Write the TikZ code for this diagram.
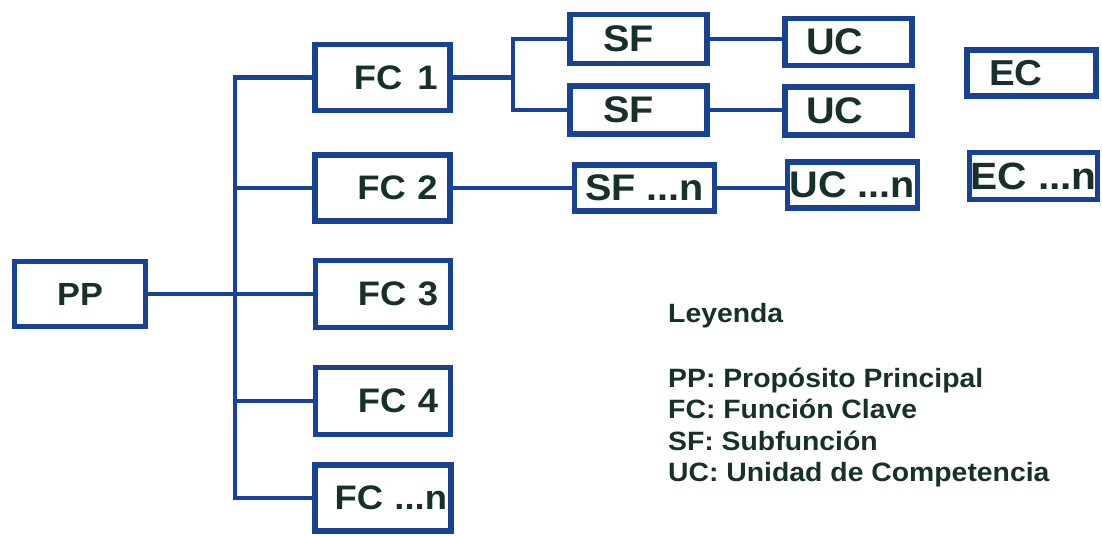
\documentclass[tikz,border=0pt]{standalone}
\usepackage{fontspec}
\setmainfont{Liberation Sans}[FakeStretch=1.07]
\definecolor{bblue}{RGB}{24,66,148}
\definecolor{tdark}{RGB}{24,48,43}
\newcommand{\fsz}[1]{\bfseries\fontsize{#1}{#1}\selectfont}
\begin{document}
\begin{tikzpicture}[x=1pt,y=-1pt,
  box/.style={draw=bblue,line width=5.5pt,fill=white,text=tdark,inner sep=0pt},
  fcbox/.style={box,minimum height=66pt,text width=110pt,align=right,inner xsep=12.5pt,font=\fsz{34}},
  sfbox/.style={box,minimum height=48pt,text width=71pt,align=left,inner xsep=33pt,font=\fsz{37}},
  ucbox/.style={box,minimum height=47pt,text width=85pt,align=left,inner xsep=21pt,font=\fsz{37}},
  nbox/.style={box,minimum height=46pt,font=\fsz{37}},
  conn/.style={draw=bblue,line width=4.5pt},
  leg/.style={anchor=base west,inner sep=0pt,text=tdark,font=\fsz{26.5}}]
\useasboundingbox (0,0) rectangle (1102,535);
% main boxes
\node[box,minimum width=131pt,minimum height=65pt,font=\fsz{32}] (pp) at (80,294) {PP};
\node[fcbox] (fc1) at (382.5,77.5) {FC\hspace{15pt}1};
\node[fcbox] (fc2) at (382.5,188) {FC 2};
\node[fcbox,minimum height=67pt] (fc3) at (383,294) {FC 3};
\node[fcbox,minimum height=67pt] (fc4) at (383,401) {FC 4};
\node[fcbox,text width=128pt,inner xsep=4pt] (fcn) at (383,498) {FC ...n};
% second level
\node[sfbox,minimum height=49pt] (sf1) at (638.5,39) {SF};
\node[sfbox] (sf2) at (638.5,110) {SF};
\node[nbox,minimum width=140pt] (sfn) at (644.5,188) {SF ...n};
\node[ucbox] (uc1) at (848.5,42) {UC};
\node[ucbox,minimum height=48pt] (uc2) at (848.5,111) {UC};
\node[nbox,minimum width=130pt] (ucn) at (852.5,185) {UC ...n};
\node[box,minimum height=46pt,text width=85pt,align=left,inner xsep=22pt,font=\fsz{36}] (ec) at (1031.5,73) {EC};
\node[nbox,minimum width=128pt,minimum height=47pt,font=\fsz{38}] (ecn) at (1033.5,176) {EC ...n};
% junction coordinates
\coordinate (tr) at (235,0);
\coordinate (jf) at (513,0);
% connectors
\draw[conn] (pp.east) -- (fc3.west);
\draw[conn] (fc1.west) -- (fc1.west -| tr) -- (fcn.west -| tr) -- (fcn.west);
\draw[conn] (fc2.west) -- (fc2.west -| tr);
\draw[conn] (fc4.west) -- (fc4.west -| tr);
\draw[conn] (fc1.east) -- (fc1.east -| jf);
\draw[conn] (sf1.west) -- (sf1.west -| jf) -- (sf2.west -| jf) -- (sf2.west);
\draw[conn] (sf1.east) -- (sf1.east -| uc1.west);
\draw[conn] (sf2.east) -- (sf2.east -| uc2.west);
\draw[conn] (fc2.east) -- (fc2.east -| sfn.west);
\draw[conn] (sfn.east) -- (sfn.east -| ucn.west);
% legend
\node[leg] (l0) at (668,322) {Leyenda};
\node[leg] (l1) at (668,387) {PP: Propósito Principal};
\node[leg] (l2) at (668,418.5) {FC: Función Clave};
\node[leg] (l3) at (668,450) {SF: Subfunción};
\node[leg] (l4) at (668,481.5) {UC: Unidad de Competencia};
\end{tikzpicture}
\end{document}
